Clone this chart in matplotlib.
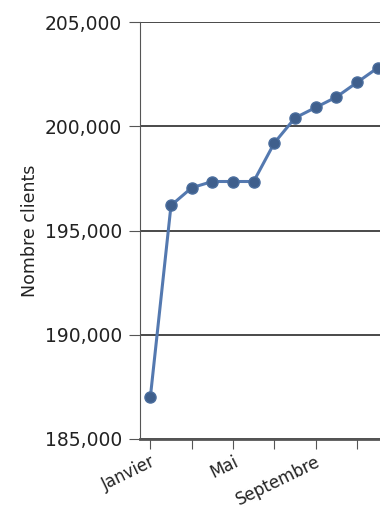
import matplotlib.pyplot as plt
from matplotlib.ticker import FuncFormatter

# Nombre de clients par mois
mois = ['Janvier', 'Février', 'Mars', 'Avril', 'Mai', 'Juin', 'Juillet',
        'Août', 'Septembre', 'Octobre', 'Novembre', 'Décembre']
clients = [187000, 196200, 197050, 197350, 197350, 197350, 199200,
           200400, 200900, 201400, 202100, 202800]

tick_pos = [0, 2, 4, 6, 8, 10]
tick_labels = ['Janvier', '', 'Mai', '', 'Septembre', '']

fig = plt.figure(figsize=(3.8, 5.09), dpi=100)
# l'axe déborde à droite : la courbe continue hors du cadre
ax = fig.add_axes([140 / 380, 1 - 439 / 509, 248 / 380, 417 / 509])

ax.plot(range(len(clients)), clients, color='#5479b0', linewidth=2.2,
        marker='o', markersize=8, markerfacecolor='#3f5f8c',
        markeredgecolor='#4b6e9e', zorder=3)

ax.set_xlim(-0.5, 11.5)
ax.set_ylim(185000, 205000)
ax.set_yticks([185000, 190000, 195000, 200000, 205000])
ax.yaxis.set_major_formatter(FuncFormatter(lambda v, p: f'{int(v):,}'))
ax.set_xticks(tick_pos)
ax.set_xticklabels(tick_labels, rotation=26, ha='right',
                   rotation_mode='anchor', fontsize=12, color='#222222')

ax.grid(axis='y', color='#3a3a3a', linewidth=1.3)
ax.set_axisbelow(True)
for s in ['top', 'right']:
    ax.spines[s].set_visible(False)
ax.spines['left'].set_color('#555555')
ax.spines['bottom'].set_color('#555555')
ax.spines['bottom'].set_linewidth(2)
ax.tick_params(axis='y', length=8, color='#555555', labelsize=13.5,
               labelcolor='#222222', pad=5)
ax.tick_params(axis='x', length=7, color='#555555', pad=3)

ax.set_ylabel('Nombre clients', fontsize=12.5, color='#222222', labelpad=4)

fig.savefig('out.png', dpi=100)
plt.close(fig)
